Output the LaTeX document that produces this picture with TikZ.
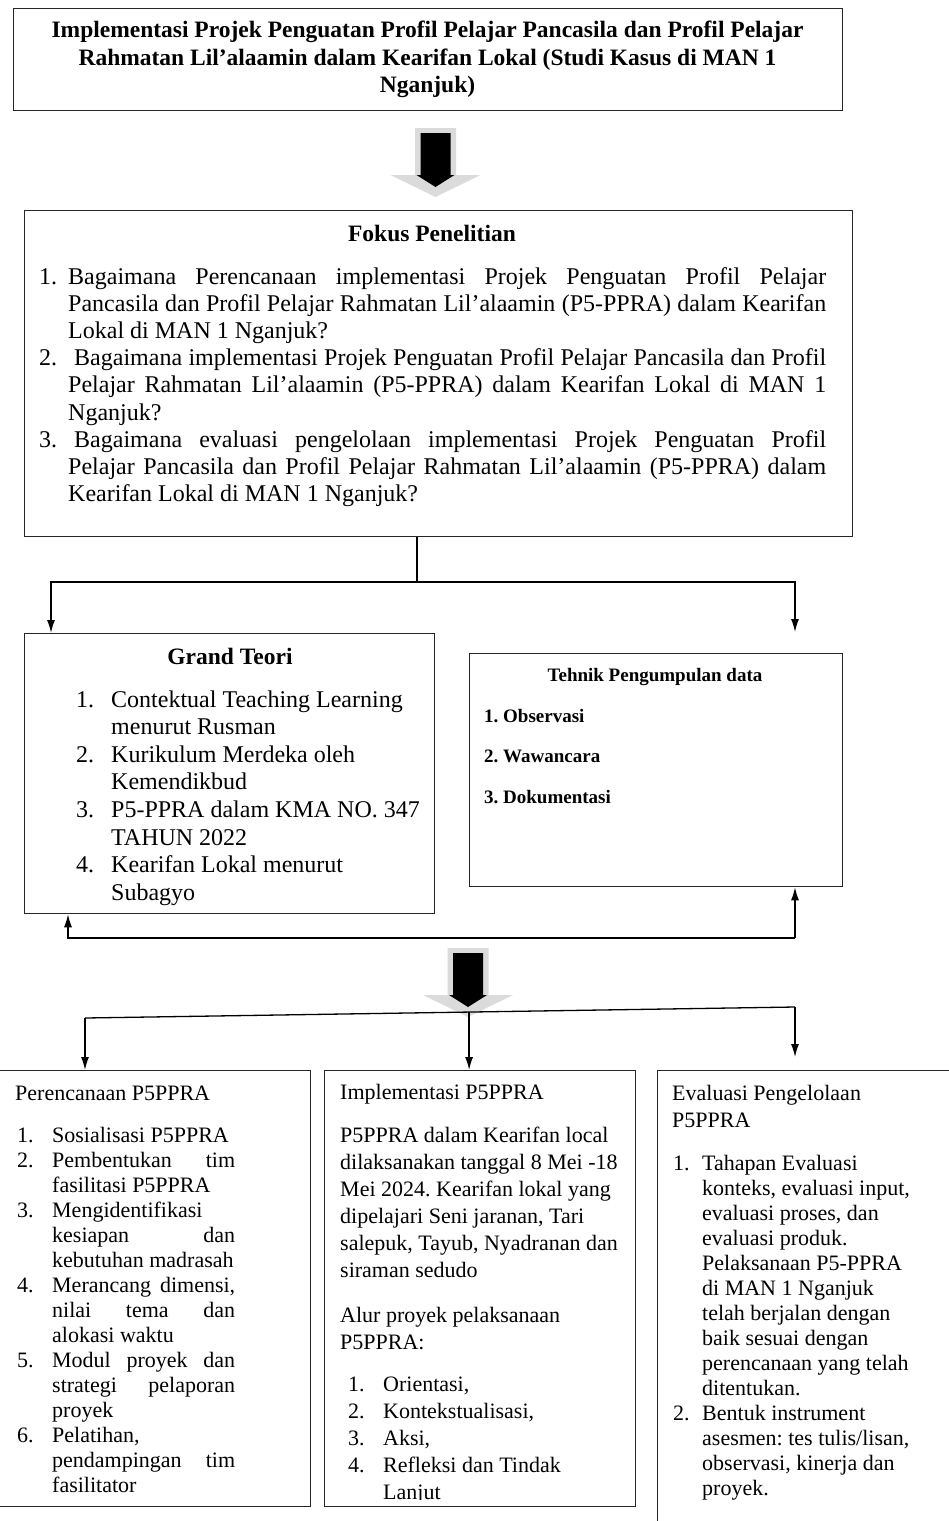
\documentclass[tikz,border=0pt]{standalone}
\usepackage{fontspec}
\setmainfont{Liberation Serif}
\frenchspacing
\usetikzlibrary{arrows.meta, calc}

\tikzstyle{kotak} = [rectangle, draw=black!85, line width=1.3pt, anchor=north west, inner sep=0pt]
\tikzstyle{teks} = [anchor=base west, inner sep=0pt]
\tikzstyle{judultengah} = [anchor=base, inner sep=0pt]
\tikzstyle{garis} = [line width=1.3pt]
\tikzstyle{arrow} = [line width=1.3pt, -{Latex[length=13pt,width=8pt]}]

\newcommand{\fjudul}{\fontsize{23.5}{27.7}\selectfont\bfseries}
\newcommand{\ffokus}{\fontsize{24}{27.1}\selectfont}
\newcommand{\fgrand}{\fontsize{24}{27.6}\selectfont}
\newcommand{\ftehnik}{\fontsize{19}{40.5}\selectfont\bfseries}
\newcommand{\fbawah}{\fontsize{22}{25}\selectfont}
\newcommand{\fimpl}{\fontsize{22}{27}\selectfont}
% nomor butir menggantung di kiri teks
\newcommand{\butir}[2]{\noindent\llap{\makebox[#1][l]{#2}}\ignorespaces}
% panah blok besar (abu-abu di belakang, hitam di depan)
\newcommand{\panahbesar}[1]{%
  \begin{scope}[shift={(#1)}]
    \fill[gray!28] (-20.5,0) -- (20.5,0) -- (20.5,47) -- (45,47) -- (0,69) -- (-45,47) -- (-20.5,47) -- cycle;
    \fill[black] (-15,5) -- (15,5) -- (15,47) -- (19,47) -- (0,59) -- (-19,47) -- (-15,47) -- cycle;
  \end{scope}}

\begin{document}
\begin{tikzpicture}[x=1pt, y=-1pt]
\useasboundingbox (0,0) rectangle (948,1521);

% kotak-kotak
\node (judul) [kotak, minimum width=829pt, minimum height=102pt] at (13,8) {};
\node (fokus) [kotak, minimum width=828pt, minimum height=326pt] at (24,210) {};
\node (grand) [kotak, minimum width=410pt, minimum height=280pt] at (24,633) {};
\node (tehnik) [kotak, minimum width=373pt, minimum height=233pt] at (469,653) {};
\node (renc) [kotak, minimum width=315pt, minimum height=436pt] at (-5,1070) {};
\node (impl) [kotak, minimum width=311pt, minimum height=436pt] at (324,1070) {};
\node (eval) [kotak, minimum width=310pt, minimum height=470pt] at (657,1070) {};

% judul
\node (judultxt) [judultengah, text width=800pt, align=flush center, font=\fjudul] at (427.5,37.5)
  {Implementasi Projek Penguatan Profil Pelajar Pancasila dan Profil Pelajar\\
   Rahmatan Lil’alaamin dalam Kearifan Lokal (Studi Kasus di MAN 1\\
   Nganjuk)};

\panahbesar{435.5,128}

% fokus penelitian
\node (fokusjudul) [judultengah, font=\fjudul] at (432,241) {Fokus Penelitian};
\node (fokustxt) [teks, text width=758pt, align=justify, font=\ffokus] at (68,284.5)
  {\butir{29pt}{1.}Bagaimana Perencanaan implementasi Projek Penguatan Profil Pelajar\linebreak
   Pancasila dan Profil Pelajar Rahmatan Lil’alaamin (P5-PPRA) dalam Kearifan\linebreak
   Lokal di MAN 1 Nganjuk?\par
   \butir{29pt}{2.}\hspace{6pt}Bagaimana implementasi Projek Penguatan Profil Pelajar Pancasila dan Profil\linebreak
   Pelajar Rahmatan Lil’alaamin (P5-PPRA) dalam Kearifan Lokal di MAN 1\linebreak
   Nganjuk?\par
   \butir{29pt}{3.}\hspace{6pt}Bagaimana evaluasi pengelolaan implementasi Projek Penguatan Profil\linebreak
   Pelajar Pancasila dan Profil Pelajar Rahmatan Lil’alaamin (P5-PPRA) dalam\linebreak
   Kearifan Lokal di MAN 1 Nganjuk?};

% grand teori
\node (grandjudul) [judultengah, font=\fjudul] at (230,664) {Grand Teori};
\node (grandtxt) [teks, text width=320pt, align=flush left, font=\fgrand] at (111,707)
  {\butir{35pt}{1.}Contektual Teaching Learning\newline menurut Rusman\par
   \butir{35pt}{2.}Kurikulum Merdeka oleh\newline Kemendikbud\par
   \butir{35pt}{3.}P5-PPRA dalam KMA NO. 347\newline TAHUN 2022\par
   \butir{35pt}{4.}Kearifan Lokal menurut\newline Subagyo};

% tehnik pengumpulan data
\node (tehnikjudul) [judultengah, font=\ftehnik] at (655,681) {Tehnik Pengumpulan data};
\node (tehniktxt) [teks, text width=340pt, align=flush left, font=\ftehnik] at (484,722)
  {1. Observasi\newline 2. Wawancara\newline 3. Dokumentasi};

% perencanaan
\node (rencjudul) [teks, font=\fbawah] at (15,1100) {Perencanaan P5PPRA};
\node (renctxt) [teks, text width=183pt, align=justify, font=\fbawah] at (52,1142)
  {\butir{35pt}{1.}Sosialisasi P5PPRA\par
   \butir{35pt}{2.}Pembentukan tim\linebreak fasilitasi P5PPRA\par
   \butir{35pt}{3.}Mengidentifikasi\newline kesiapan dan\linebreak kebutuhan madrasah\par
   \butir{35pt}{4.}Merancang dimensi,\linebreak nilai tema dan\linebreak alokasi waktu\par
   \butir{35pt}{5.}Modul proyek dan\linebreak strategi pelaporan\linebreak proyek\par
   \butir{35pt}{6.}Pelatihan,\newline pendampingan tim\linebreak fasilitator};

% implementasi
\node (impljudul) [teks, font=\fbawah] at (340,1099) {Implementasi P5PPRA};
\node (impltxt) [teks, text width=290pt, align=flush left, font=\fimpl] at (340,1142)
  {P5PPRA dalam Kearifan local\newline dilaksanakan tanggal 8 Mei -18\newline
   Mei 2024. Kearifan lokal yang\newline dipelajari Seni jaranan, Tari\newline
   salepuk, Tayub, Nyadranan dan\newline siraman sedudo};
\node (alur) [teks, text width=290pt, align=flush left, font=\fimpl] at (340,1322)
  {Alur proyek pelaksanaan\newline P5PPRA:};
\begin{scope}
  \clip (324,1070) rectangle (636,1499);
  \node (alurtxt) [teks, text width=250pt, align=flush left, font=\fimpl] at (383,1391)
    {\butir{35pt}{1.}Orientasi,\par
     \butir{35pt}{2.}Kontekstualisasi,\par
     \butir{35pt}{3.}Aksi,\par
     \butir{35pt}{4.}Refleksi dan Tindak\newline Lanjut};
\end{scope}

% evaluasi
\node (evaljudul) [teks, text width=260pt, align=flush left, font=\fimpl] at (672,1100)
  {Evaluasi Pengelolaan\newline P5PPRA};
\node (evaltxt) [teks, text width=240pt, align=flush left, font=\fbawah] at (702,1170)
  {\butir{29pt}{1.}Tahapan Evaluasi\newline konteks, evaluasi input,\newline
   evaluasi proses, dan\newline evaluasi produk.\newline Pelaksanaan P5-PPRA\newline
   di MAN 1 Nganjuk\newline telah berjalan dengan\newline baik sesuai dengan\newline
   perencanaan yang telah\newline ditentukan.\par
   \butir{29pt}{2.}Bentuk instrument\newline asesmen: tes tulis/lisan,\newline
   observasi, kinerja dan\newline proyek.};

% penghubung fokus -> grand teori & tehnik
\coordinate (cabang) at (417,582);
\coordinate (kiri) at (51,582);
\coordinate (kanan) at (795,582);
\coordinate (kananujung) at (795,632);
\draw [garis] (fokus.south -| cabang) -- (cabang);
\draw [arrow] (cabang) -- (kiri) -- (kiri |- grand.north);
\draw [arrow] (cabang) -- (kanan) -- (kananujung);

% garis balik di bawah
\coordinate (balikkiri) at (68,938);
\coordinate (balikkanan) at (795,938);
\draw [arrow] (balikkanan) -- (balikkiri) -- (balikkiri |- grand.south);
\draw [arrow] (balikkanan) -- (balikkanan |- tehnik.south);

\panahbesar{468,948}

% penghubung ke tiga kotak bawah
\coordinate (bawahkiri) at (85,1018);
\coordinate (bawahkanan) at (795,1007);
\coordinate (bawahtengah) at ($(bawahkiri)!0.541!(bawahkanan)$);
\coordinate (bawahujung) at (795,1057);
\draw [garis] (bawahkiri) -- (bawahkanan);
\draw [arrow] (bawahkiri) -- (bawahkiri |- renc.north);
\draw [arrow] (bawahtengah) -- (bawahtengah |- impl.north);
\draw [arrow] (bawahkanan) -- (bawahujung);

\end{tikzpicture}
\end{document}
